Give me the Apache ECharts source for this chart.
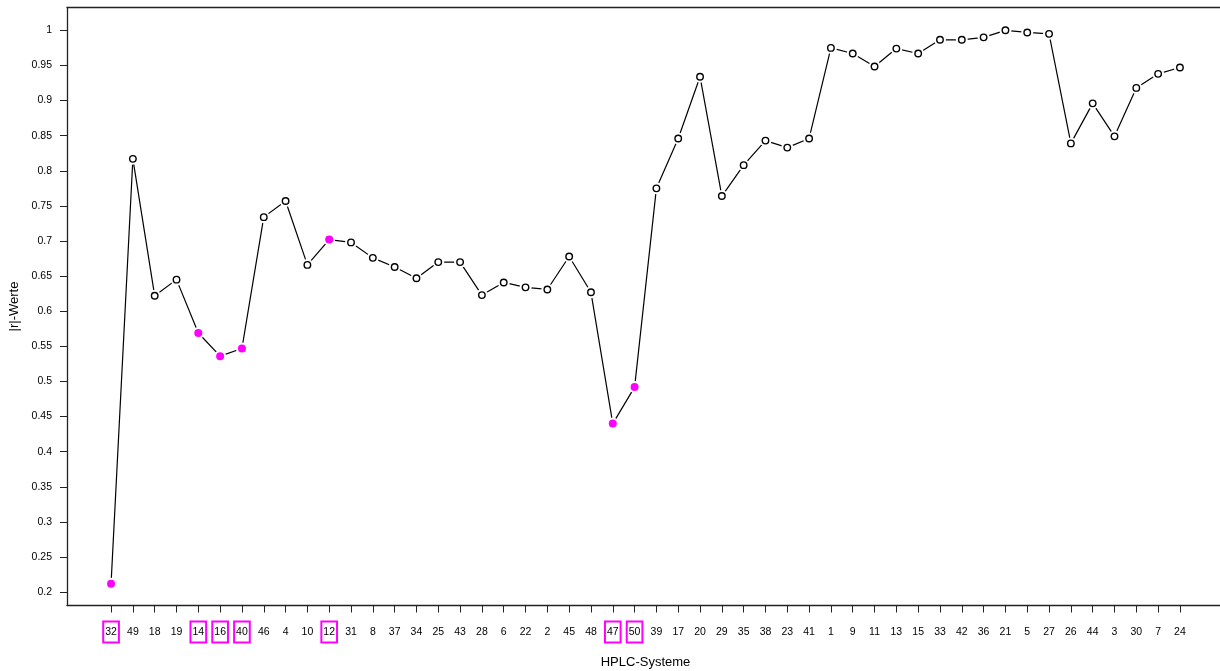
<!DOCTYPE html>
<html>
<head>
<meta charset="utf-8">
<script src="https://cdn.jsdelivr.net/npm/echarts@6/dist/echarts.min.js"></script>
<style>
html,body{margin:0;padding:0;background:#fff;overflow:hidden;}
#chart{width:1220px;height:671px;}
</style>
</head>
<body>
<div id="chart"></div>
<script>
// Categories (HPLC system numbers) in plotted order
const categories = [32,49,18,19,14,16,40,46,4,10,12,31,8,37,34,25,43,28,6,22,2,45,48,47,50,39,17,20,29,35,38,23,41,1,9,11,13,15,33,42,36,21,5,27,26,44,3,30,7,24];
// |r| values
const values = [0.212,0.817,0.622,0.645,0.569,0.536,0.547,0.734,0.757,0.666,0.702,0.698,0.676,0.663,0.647,0.670,0.670,0.623,0.641,0.634,0.631,0.678,0.627,0.440,0.492,0.775,0.846,0.934,0.764,0.808,0.843,0.833,0.846,0.975,0.967,0.9485,0.974,0.967,0.9865,0.9865,0.990,1.000,0.997,0.995,0.839,0.896,0.849,0.918,0.938,0.947];
// Highlighted systems (magenta)
const highlighted = [32,14,16,40,12,47,50];
// Y tick labels
const yTicks = [0.2,0.25,0.3,0.35,0.4,0.45,0.5,0.55,0.6,0.65,0.7,0.75,0.8,0.85,0.9,0.95,1];

const idx = categories.map((c,i)=>i);
const lineData = values.map((v,i)=>[i,v]);
const openData = lineData.filter((d,i)=>highlighted.indexOf(categories[i])<0);
const hlData = lineData.filter((d,i)=>highlighted.indexOf(categories[i])>=0);

const chart = echarts.init(document.getElementById('chart'), null, {renderer:'canvas', width:1220, height:671});
const font = 'Liberation Sans, Arial, sans-serif';
const axisCol = '#222';
const xMin = -2.02, xMax = 51.02;
chart.setOption({
  animation:false,
  backgroundColor:'#fff',
  grid:{left:67,right:-4,top:7.5,bottom:65.5,show:false,containLabel:false,outerBoundsMode:'none'},
  xAxis:[{
    type:'value', min:xMin, max:xMax,
    name:'HPLC-Systeme', nameLocation:'middle', nameGap:50,
    nameTextStyle:{fontFamily:font,fontSize:13,color:'#000'},
    axisLine:{show:true,onZero:false,lineStyle:{color:axisCol,width:1.3}},
    axisTick:{show:true,customValues:idx,length:7,inside:false,lineStyle:{color:axisCol,width:1}},
    splitLine:{show:false},
    axisLabel:{
      customValues:idx, margin:21, hideOverlap:false,
      formatter:function(v){
        const c = categories[Math.round(v)];
        if(c===undefined) return '';
        return highlighted.indexOf(c)>=0 ? '{h|'+c+'}' : '{n|'+c+'}';
      },
      rich:{
        h:{fontFamily:font,fontSize:10.5,color:'#000',lineHeight:11,padding:[5,2,5,2],borderColor:'#FF00FF',borderWidth:2},
        n:{fontFamily:font,fontSize:10.5,color:'#000',lineHeight:11,padding:[5,2,5,2]}
      }
    }
  },{
    type:'value', position:'top', min:xMin, max:xMax,
    axisLine:{show:true,onZero:false,lineStyle:{color:axisCol,width:1.3}},
    axisTick:{show:false}, axisLabel:{show:false}, splitLine:{show:false}
  }],
  yAxis:{
    type:'value', min:0.181, max:1.0325,
    name:'|r|-Werte', nameLocation:'middle', nameGap:45, nameRotate:90,
    nameTextStyle:{fontFamily:font,fontSize:13,color:'#000'},
    axisLine:{show:true,onZero:false,lineStyle:{color:axisCol,width:1.3}},
    axisTick:{show:true,customValues:yTicks,length:7,lineStyle:{color:axisCol,width:1}},
    splitLine:{show:false},
    axisLabel:{customValues:yTicks,margin:15,fontFamily:font,fontSize:10.5,color:'#000',
      formatter:function(v){return String(Math.round(v*100)/100);}}
  },
  series:[
    {type:'line',data:lineData,showSymbol:false,symbol:'none',lineStyle:{color:'#000',width:1.2},z:1,silent:true},
    {type:'scatter',data:lineData,symbol:'circle',symbolSize:12,itemStyle:{color:'#fff',opacity:1},z:2,silent:true},
    {type:'scatter',data:openData,symbol:'circle',symbolSize:6.5,itemStyle:{color:'#fff',borderColor:'#000',borderWidth:1.4,opacity:1},z:3,silent:true},
    {type:'scatter',data:hlData,symbol:'circle',symbolSize:8,itemStyle:{color:'#FF00FF',opacity:1},z:3,silent:true}
  ]
});
</script>
</body>
</html>
